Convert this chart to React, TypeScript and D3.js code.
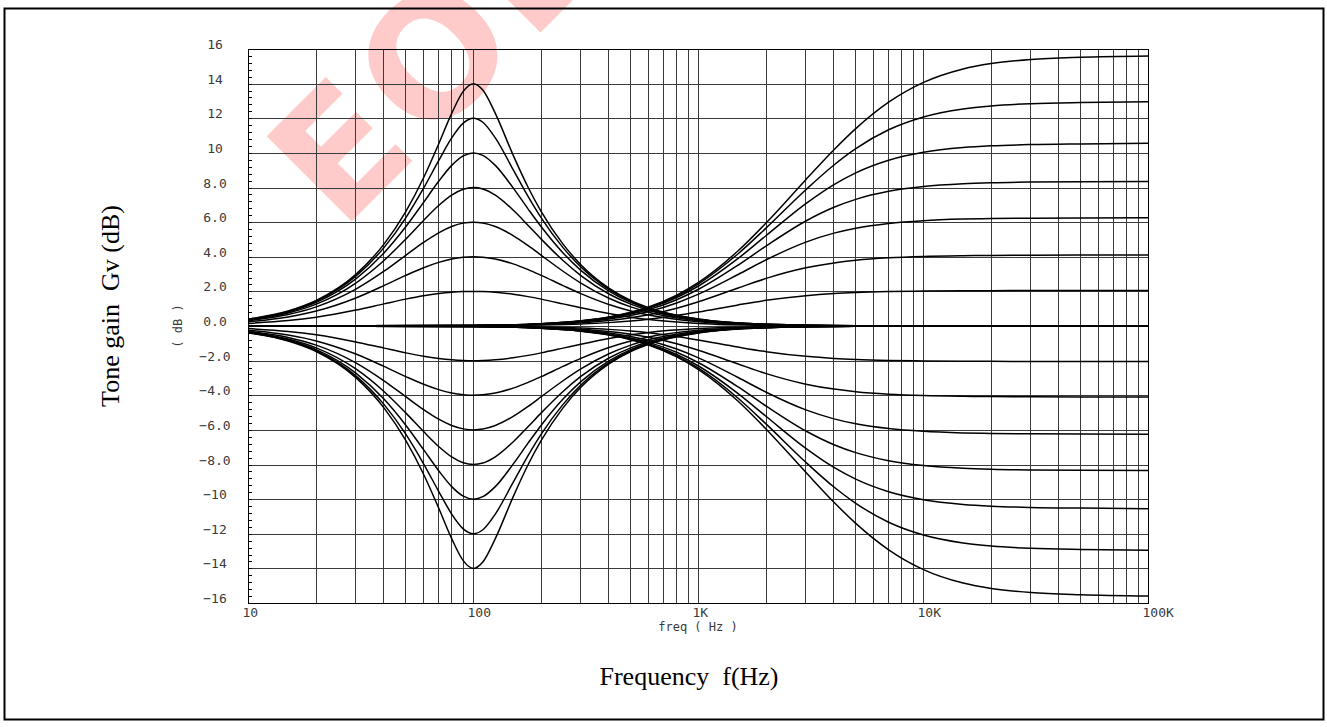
import React from 'react';
import * as d3 from 'd3';

// ---------- data ----------
// Bass (peaking ~100 Hz) family: frequency grid (Hz)
const bassFreqs = [10, 15, 20, 30, 40, 50, 60, 70, 80, 90, 100, 110, 125, 150, 175, 200, 250, 300, 400, 500, 600, 1000, 2000, 5000, 100000];
const bassBoost2 = [0.149, 0.313, 0.509, 0.92, 1.278, 1.552, 1.745, 1.872, 1.949, 1.988, 2.0, 1.99, 1.949, 1.836, 1.697, 1.552, 1.278, 1.048, 0.716, 0.509, 0.376, 0.149, 0.039, 0.006, 0];
const bassBoost4 = [0.246, 0.523, 0.864, 1.62, 2.334, 2.924, 3.368, 3.676, 3.87, 3.97, 4.0, 3.976, 3.87, 3.588, 3.256, 2.924, 2.334, 1.868, 1.238, 0.864, 0.631, 0.246, 0.064, 0.01, 0];
const bassBoost6 = [0.308, 0.66, 1.103, 2.127, 3.163, 4.085, 4.832, 5.384, 5.747, 5.942, 6.0, 5.953, 5.747, 5.222, 4.638, 4.085, 3.163, 2.479, 1.603, 1.103, 0.8, 0.308, 0.079, 0.013, 0];
const bassBoost8 = [0.347, 0.75, 1.262, 2.481, 3.782, 5.018, 6.098, 6.957, 7.559, 7.897, 8.0, 7.916, 7.559, 6.698, 5.81, 5.018, 3.782, 2.914, 1.849, 1.262, 0.91, 0.347, 0.089, 0.014, 0];
const bassBoost10 = [0.373, 0.807, 1.365, 2.72, 4.222, 5.73, 7.141, 8.357, 9.277, 9.828, 10.0, 9.859, 9.277, 7.98, 6.754, 5.73, 4.222, 3.213, 2.013, 1.365, 0.981, 0.373, 0.096, 0.015, 0];
const bassBoost12 = [0.389, 0.843, 1.431, 2.878, 4.526, 6.248, 7.957, 9.548, 10.864, 11.719, 12.0, 11.769, 10.864, 9.039, 7.476, 6.248, 4.526, 3.413, 2.119, 1.431, 1.026, 0.389, 0.099, 0.016, 0];
const bassBoost14 = [0.399, 0.866, 1.473, 2.981, 4.729, 6.61, 8.564, 10.512, 12.281, 13.552, 14.0, 13.63, 12.281, 9.871, 8.002, 6.61, 4.729, 3.543, 2.188, 1.473, 1.055, 0.399, 0.102, 0.016, 0];
const bassCut2 = [-0.149, -0.313, -0.509, -0.92, -1.278, -1.552, -1.745, -1.872, -1.949, -1.988, -2.0, -1.99, -1.949, -1.836, -1.697, -1.552, -1.278, -1.048, -0.716, -0.509, -0.376, -0.149, -0.039, -0.006, 0];
const bassCut4 = [-0.246, -0.523, -0.864, -1.62, -2.334, -2.924, -3.368, -3.676, -3.87, -3.97, -4.0, -3.976, -3.87, -3.588, -3.256, -2.924, -2.334, -1.868, -1.238, -0.864, -0.631, -0.246, -0.064, -0.01, 0];
const bassCut6 = [-0.308, -0.66, -1.103, -2.127, -3.163, -4.085, -4.832, -5.384, -5.747, -5.942, -6.0, -5.953, -5.747, -5.222, -4.638, -4.085, -3.163, -2.479, -1.603, -1.103, -0.8, -0.308, -0.079, -0.013, 0];
const bassCut8 = [-0.347, -0.75, -1.262, -2.481, -3.782, -5.018, -6.098, -6.957, -7.559, -7.897, -8.0, -7.916, -7.559, -6.698, -5.81, -5.018, -3.782, -2.914, -1.849, -1.262, -0.91, -0.347, -0.089, -0.014, 0];
const bassCut10 = [-0.373, -0.807, -1.365, -2.72, -4.222, -5.73, -7.141, -8.357, -9.277, -9.828, -10.0, -9.859, -9.277, -7.98, -6.754, -5.73, -4.222, -3.213, -2.013, -1.365, -0.981, -0.373, -0.096, -0.015, 0];
const bassCut12 = [-0.389, -0.843, -1.431, -2.878, -4.526, -6.248, -7.957, -9.548, -10.864, -11.719, -12.0, -11.769, -10.864, -9.039, -7.476, -6.248, -4.526, -3.413, -2.119, -1.431, -1.026, -0.389, -0.099, -0.016, 0];
const bassCut14 = [-0.399, -0.866, -1.473, -2.981, -4.729, -6.61, -8.564, -10.512, -12.281, -13.552, -14.0, -13.63, -12.281, -9.871, -8.002, -6.61, -4.729, -3.543, -2.188, -1.473, -1.055, -0.399, -0.102, -0.016, 0];

// Treble (high shelf) family: frequency grid (Hz)
const trebleFreqs = [10, 100, 200, 300, 400, 500, 600, 800, 1000, 1500, 2000, 3000, 4000, 5000, 7000, 10000, 15000, 20000, 30000, 50000, 100000];
const trebleBoost1 = [0, 0.013, 0.053, 0.115, 0.195, 0.29, 0.392, 0.606, 0.811, 1.219, 1.481, 1.751, 1.871, 1.932, 1.988, 2.02, 2.037, 2.043, 2.047, 2.049, 2.05];
const trebleBoost2 = [0, 0.022, 0.086, 0.188, 0.321, 0.48, 0.656, 1.031, 1.405, 2.199, 2.749, 3.359, 3.645, 3.796, 3.938, 4.02, 4.063, 4.079, 4.09, 4.097, 4.1];
const trebleBoost3 = [0, 0.027, 0.107, 0.236, 0.405, 0.608, 0.835, 1.331, 1.839, 2.976, 3.827, 4.847, 5.364, 5.649, 5.925, 6.086, 6.175, 6.208, 6.231, 6.243, 6.25];
const trebleBoost4 = [0, 0.031, 0.12, 0.265, 0.456, 0.687, 0.946, 1.52, 2.121, 3.519, 4.628, 6.066, 6.857, 7.314, 7.779, 8.058, 8.217, 8.275, 8.316, 8.337, 8.35];
const trebleBoost5 = [0, 0.033, 0.129, 0.283, 0.489, 0.737, 1.019, 1.646, 2.31, 3.903, 5.228, 7.07, 8.17, 8.847, 9.575, 10.035, 10.306, 10.407, 10.48, 10.519, 10.55];
const trebleBoost6 = [0, 0.034, 0.134, 0.295, 0.51, 0.77, 1.066, 1.729, 2.438, 4.172, 5.668, 7.873, 9.302, 10.245, 11.333, 12.074, 12.535, 12.712, 12.842, 12.911, 12.95];
const trebleBoost7 = [0, 0.035, 0.137, 0.303, 0.524, 0.791, 1.096, 1.781, 2.518, 4.346, 5.962, 8.453, 10.181, 11.401, 12.926, 14.071, 14.849, 15.161, 15.399, 15.527, 15.6];
const trebleCut1 = [0, -0.013, -0.053, -0.115, -0.195, -0.29, -0.392, -0.606, -0.811, -1.219, -1.481, -1.751, -1.871, -1.932, -1.988, -2.02, -2.037, -2.043, -2.047, -2.049, -2.05];
const trebleCut2 = [0, -0.022, -0.086, -0.188, -0.321, -0.48, -0.656, -1.031, -1.405, -2.199, -2.749, -3.359, -3.645, -3.796, -3.938, -4.02, -4.063, -4.079, -4.09, -4.097, -4.1];
const trebleCut3 = [0, -0.027, -0.107, -0.236, -0.405, -0.608, -0.835, -1.331, -1.839, -2.976, -3.827, -4.847, -5.364, -5.649, -5.925, -6.086, -6.175, -6.208, -6.231, -6.243, -6.25];
const trebleCut4 = [0, -0.031, -0.12, -0.265, -0.456, -0.687, -0.946, -1.52, -2.121, -3.519, -4.628, -6.066, -6.857, -7.314, -7.779, -8.058, -8.217, -8.275, -8.316, -8.337, -8.35];
const trebleCut5 = [0, -0.033, -0.129, -0.283, -0.489, -0.737, -1.019, -1.646, -2.31, -3.903, -5.228, -7.07, -8.17, -8.847, -9.575, -10.035, -10.306, -10.407, -10.48, -10.519, -10.55];
const trebleCut6 = [0, -0.034, -0.134, -0.295, -0.51, -0.77, -1.066, -1.729, -2.438, -4.172, -5.668, -7.873, -9.302, -10.245, -11.333, -12.074, -12.535, -12.712, -12.842, -12.911, -12.95];
const trebleCut7 = [0, -0.035, -0.137, -0.303, -0.524, -0.791, -1.096, -1.781, -2.518, -4.346, -5.962, -8.453, -10.181, -11.401, -12.926, -14.071, -14.849, -15.161, -15.399, -15.527, -15.6];

// Axis ticks and labels
const yTickValues = [16, 14, 12, 10, 8, 6, 4, 2, 0, -2, -4, -6, -8, -10, -12, -14, -16];
const yTickLabels = ['16', '14', '12', '10', '8.0', '6.0', '4.0', '2.0', '0.0', '\u22122.0', '\u22124.0', '\u22126.0', '\u22128.0', '\u221210', '\u221212', '\u221214', '\u221216'];
const xTickValues = [10, 100, 1000, 10000, 100000];
const xTickLabels = ['10', '100', '1K', '10K', '100K'];

const bassSeries = [bassBoost2, bassBoost4, bassBoost6, bassBoost8, bassBoost10, bassBoost12, bassBoost14,
  bassCut2, bassCut4, bassCut6, bassCut8, bassCut10, bassCut12, bassCut14];
const trebleSeries = [trebleBoost1, trebleBoost2, trebleBoost3, trebleBoost4, trebleBoost5, trebleBoost6, trebleBoost7,
  trebleCut1, trebleCut2, trebleCut3, trebleCut4, trebleCut5, trebleCut6, trebleCut7];

export default function App() {
  const W = 1327, H = 727;
  const x = d3.scaleLog().domain([10, 100000]).range([248.5, 1148.5]);
  const y = d3.scaleLinear().domain([-16, 16]).range([603, 49]);
  const line = d3.line<[number, number]>()
    .x(d => x(d[0]))
    .y(d => y(d[1]))
    .curve(d3.curveMonotoneX);

  const gridFreqs: number[] = [];
  [10, 100, 1000, 10000].forEach(dec => {
    for (let m = 1; m <= 9; m++) gridFreqs.push(m * dec);
  });
  gridFreqs.push(100000);
  const minorY = d3.range(-16, 16.001, 0.4);

  const tickFont = '"DejaVu Sans Mono", monospace';
  const serif = '"Liberation Serif", "Times New Roman", serif';

  const curves = [
    ...bassSeries.map(s => bassFreqs.map((f, i) => [f, s[i]] as [number, number])),
    ...trebleSeries.map(s => trebleFreqs.map((f, i) => [f, s[i]] as [number, number])),
  ];

  return (
    <svg width={W} height={H} viewBox={`0 0 ${W} ${H}`}
      style={{ position: 'absolute', left: 0, top: 0, display: 'block', background: '#fff' }}>
      <rect x={0} y={0} width={W} height={H} fill="#fff" />
      {/* watermark (clipped by the page top, as in the original) */}
      <text transform="translate(341,232) rotate(-45)" fontFamily='"DejaVu Sans", Verdana, sans-serif'
        fontWeight="bold" fontSize={165} letterSpacing={7} fill="#ffcaca">EOL</text>
      {/* outer frame */}
      <rect x={4.5} y={8.5} width={1319} height={711} fill="none" stroke="#000" strokeWidth={2} />
      {/* grid */}
      <g shapeRendering="crispEdges" stroke="#3a3a3a" strokeWidth={1}>
        {gridFreqs.map(f => (
          <line key={'gx' + f} x1={x(f)} x2={x(f)} y1={y(16)} y2={y(-16)} />
        ))}
        {yTickValues.map(v => (
          <line key={'gy' + v} x1={x(10)} x2={x(100000)} y1={y(v) + 0.5} y2={y(v) + 0.5} />
        ))}
        {minorY.map((v, i) => (
          <line key={'my' + i} x1={x(10)} x2={x(10) + 3} y1={y(v) + 0.5} y2={y(v) + 0.5} stroke="#000" />
        ))}
        <rect x={x(10)} y={y(16) + 0.5} width={x(100000) - x(10)} height={y(-16) - y(16)} fill="none" stroke="#000" />
      </g>
      {/* curves */}
      <g fill="none" stroke="#000" strokeWidth={1.5} strokeLinejoin="round">
        {curves.map((c, i) => <path key={i} d={line(c) || ''} />)}
      </g>
      {/* y tick labels */}
      <g fontFamily={tickFont} fontSize={13} fill="#3a3a3a" textAnchor="middle">
        {yTickValues.map((v, i) => (
          <text key={'yl' + v} x={215} y={y(v)}>{yTickLabels[i]}</text>
        ))}
      </g>
      {/* x tick labels */}
      <g fontFamily={tickFont} fontSize={13} fill="#3a3a3a" textAnchor="start">
        {xTickValues.map((v, i) => (
          <text key={'xl' + v} x={x(v) - 6} y={617}>{xTickLabels[i]}</text>
        ))}
      </g>
      <text x={698} y={631} fontFamily={tickFont} fontSize={12} fill="#3a3a3a" textAnchor="middle"
        style={{ whiteSpace: 'pre' }}>freq ( Hz )</text>
      <text transform="translate(182,326) rotate(-90)" fontFamily={tickFont} fontSize={12} fill="#3a3a3a"
        textAnchor="middle" style={{ whiteSpace: 'pre' }}>( dB )</text>
      {/* titles */}
      <text transform="translate(119,306) rotate(-90)" fontFamily={serif} fontSize={26} fill="#000"
        textAnchor="middle" style={{ whiteSpace: 'pre' }}>Tone gain  Gv (dB)</text>
      <text x={689} y={685} fontFamily={serif} fontSize={26} fill="#000" textAnchor="middle"
        style={{ whiteSpace: 'pre' }}>Frequency  f(Hz)</text>
    </svg>
  );
}
